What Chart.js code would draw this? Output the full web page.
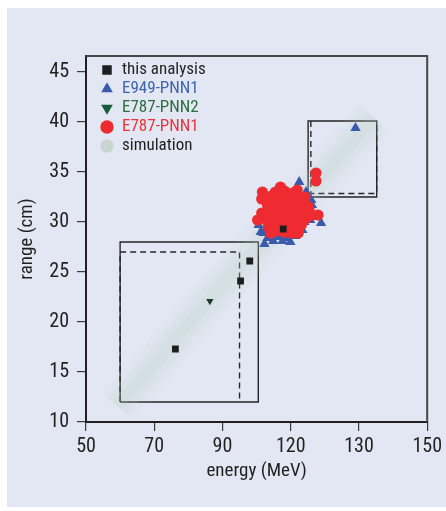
<!DOCTYPE html>
<html><head><meta charset="utf-8">
<script src="https://cdn.jsdelivr.net/npm/chart.js@4.4.1/dist/chart.umd.min.js"></script>
<style>
html,body{margin:0;padding:0;background:#fff;}
#wrap{position:relative;width:446px;height:511px;}
#panel{position:absolute;left:7px;top:8px;width:439px;height:499px;background:#e3e7f3;}
canvas{position:absolute;left:0;top:0;}
</style></head><body>
<div id="wrap"><div id="panel"></div><canvas id="c" width="446" height="511"></canvas></div>
<script>
const xTicks = [50, 70, 90, 110, 130, 150];
const xTickLabels = ['50', '70', '90', '120', '130', '150'];
const yTicks = [10, 15, 20, 25, 30, 35, 40, 45];
const xRange = [50, 150];
const yRange = [10, 46.6];

const thisAnalysis = [{x:76.2,y:17.3},{x:95.3,y:24.1},{x:98.0,y:26.1},{x:107.8,y:29.3}];
const e787pnn2 = [{x:86.3,y:22.1}];
const e949pnn1 = [
  {x:129.0,y:39.4},{x:112.5,y:34.0},{x:100.6,y:29.7},{x:101.2,y:29.0},{x:102.0,y:28.9},
  {x:102.3,y:27.8},{x:103.2,y:28.4},{x:104.9,y:28.1},{x:106.4,y:28.5},{x:107.6,y:28.1},
  {x:109.0,y:28.4},{x:109.9,y:28.0},{x:111.3,y:28.6},{x:115.7,y:30.2},{x:116.6,y:30.5},
  {x:118.9,y:29.9},{x:116.0,y:32.2},{x:114.5,y:33.0},{x:115.1,y:31.5},{x:116.2,y:31.7},
  {x:102.3,y:30.2},{x:104.1,y:30.3},{x:113.4,y:29.2},{x:106.0,y:31.0},{x:110.0,y:31.5},
  {x:108.0,y:30.0},{x:112.0,y:30.5},{x:105.0,y:32.0},{x:110.8,y:32.8},{x:114.0,y:30.0}
];
const e787pnn1 = [
  {x:101.7,y:33.0},{x:101.5,y:32.3},{x:101.5,y:30.9},{x:100.3,y:30.2},{x:107.0,y:33.5},
  {x:111.9,y:33.2},{x:114.2,y:32.5},{x:115.4,y:31.2},{x:118.0,y:30.7},{x:112.2,y:28.9},
  {x:103.5,y:29.5},{x:104.9,y:32.5},{x:103.2,y:31.7},{x:113.1,y:29.7},{x:107.3,y:29.2},
  {x:117.4,y:34.9},{x:117.4,y:34.1},{x:104.2,y:28.9},{x:110.5,y:28.9},{x:109.0,y:29.0},
  {x:111.9,y:29.0},
  {x:105.5,y:33.0},{x:108.2,y:33.1},{x:110.6,y:32.9},
  {x:104.3,y:32.6},{x:106.8,y:32.7},{x:109.3,y:32.5},{x:111.6,y:32.6},{x:113.0,y:32.4},
  {x:103.9,y:32.1},{x:105.8,y:32.0},{x:107.9,y:32.2},{x:110.2,y:32.0},{x:112.4,y:32.1},{x:114.1,y:31.9},
  {x:104.7,y:31.6},{x:106.5,y:31.5},{x:108.7,y:31.7},{x:111.0,y:31.6},{x:113.2,y:31.5},{x:115.0,y:31.6},
  {x:103.6,y:31.1},{x:105.4,y:31.2},{x:107.6,y:31.0},{x:109.8,y:31.1},{x:112.1,y:31.2},{x:114.2,y:31.0},
  {x:104.2,y:30.6},{x:106.3,y:30.5},{x:108.5,y:30.7},{x:110.9,y:30.6},{x:113.0,y:30.5},{x:115.6,y:30.6},
  {x:103.1,y:30.1},{x:105.1,y:30.0},{x:107.2,y:30.2},{x:109.5,y:30.0},{x:111.8,y:30.1},{x:114.0,y:30.2},
  {x:104.6,y:29.6},{x:106.7,y:29.5},{x:108.9,y:29.7},{x:110.8,y:29.5},{x:112.7,y:29.6},
  {x:105.6,y:29.1},{x:108.0,y:29.0},{x:110.2,y:29.2}
];
const simulationPath = [
  {x:59.0,y:11.6},{x:68.6,y:15.2},{x:77.3,y:18.7},{x:86.0,y:22.2},{x:94.8,y:25.4},
  {x:102.0,y:28.2},{x:109.3,y:31.0},{x:116.6,y:33.7},{x:123.8,y:36.4},{x:131.1,y:39.2},{x:134.5,y:40.4}
];
const boxLowSolid = [{x:60,y:12},{x:60,y:28},{x:100.5,y:28},{x:100.5,y:12},{x:60,y:12}];
const boxLowDashed = [{x:60,y:12},{x:60,y:27},{x:95,y:27},{x:95,y:12}];
const boxHighSolid = [{x:115.1,y:32.5},{x:115.1,y:40.1},{x:135.2,y:40.1},{x:135.2,y:32.5},{x:115.1,y:32.5}];
const boxHighDashed = [{x:115.9,y:40.1},{x:115.9,y:32.85},{x:135.2,y:32.85},{x:135.2,y:40.1}];

const FONT = "'Liberation Sans Narrow', 'Roboto Condensed', 'DejaVu Sans Condensed', 'Liberation Sans', sans-serif";
const ink = '#231f20';

function boxDs(data, dashed) {
  return {label:'box', data, showLine:true, pointRadius:0, borderColor:'#262626', borderWidth:1.4,
    borderDash: dashed ? [6,4] : [], fill:false, order:5, inLegend:false, clip:0};
}
function simDs(label, width, alpha, legend) {
  return {label, data: simulationPath, showLine:true, pointRadius:0, tension:0.3,
    borderColor:`rgba(180,202,188,${alpha})`, backgroundColor:'#c9d6cf', borderWidth:width,
    borderCapStyle:'butt', borderJoinStyle:'round', fill:false, order:4, inLegend:legend,
    pointStyle:'circle', legendTextColor: ink, clip:0};
}

const datasets = [
  {label:'this analysis', data:thisAnalysis, pointStyle:'rect', pointRadius:4.8, backgroundColor:'#1e1e1e',
   borderWidth:0, order:0, inLegend:true, legendTextColor:ink},
  {label:'E949-PNN1', data:e949pnn1, pointStyle:'triangle', pointRadius:6, backgroundColor:'#3a5aab',
   borderWidth:0, order:3, inLegend:true, legendTextColor:'#3d65ad'},
  {label:'E787-PNN2', data:e787pnn2, pointStyle:'triangle', rotation:180, pointRadius:4.2, backgroundColor:'#1c3a26',
   borderWidth:0, order:1, inLegend:true, legendTextColor:'#2b6e40', legendFill:'#175a33'},
  {label:'E787-PNN1', data:e787pnn1, pointStyle:'circle', pointRadius:5.6, backgroundColor:'#ee2b31',
   borderWidth:0, order:2, inLegend:true, legendTextColor:'#e8343a'},
  simDs('simulation', 40, 0.08, true),
  simDs('simulation-mid', 26, 0.12, false),
  simDs('simulation-core', 12, 0.14, false),
  boxDs(boxLowSolid, false), boxDs(boxLowDashed, true),
  boxDs(boxHighSolid, false), boxDs(boxHighDashed, true)
];

const framePlugin = {
  id:'frame',
  afterDraw(chart){
    const {ctx, chartArea:a} = chart;
    ctx.save();
    ctx.strokeStyle = '#474747'; ctx.lineWidth = 2;
    ctx.beginPath(); ctx.moveTo(a.left, a.top); ctx.lineTo(a.right, a.top); ctx.lineTo(a.right, a.bottom); ctx.stroke();
    ctx.restore();
  }
};
const legendShift = {
  id:'legendShift',
  afterLayout(chart){ const l = chart.legend; if (l) { l.left = 98.5; l.top = 59.5; } }
};

new Chart(document.getElementById('c'), {
  type:'scatter',
  data:{datasets},
  plugins:[framePlugin, legendShift],
  options:{
    responsive:false, animation:false, devicePixelRatio:1,
    layout:{padding:{top:56, right:16, left:0, bottom:0}},
    scales:{
      x:{type:'linear', min:xRange[0], max:xRange[1],
        afterBuildTicks:s=>{ s.ticks = xTicks.map(v=>({value:v})); },
        afterFit:s=>{ s.height = 89; },
        ticks:{callback:(v,i)=>xTickLabels[i], font:{family:FONT, size:20}, color:ink, padding:4, maxRotation:0, autoSkip:false},
        grid:{drawOnChartArea:false, tickLength:9, color:'#3a3a3a', lineWidth:1.2},
        border:{color:ink, width:2},
        title:{display:true, text:'energy (MeV)', font:{family:FONT, size:19}, color:ink, padding:{top:0, bottom:28.6}}
      },
      y:{type:'linear', min:yRange[0], max:yRange[1],
        afterBuildTicks:s=>{ s.ticks = yTicks.map(v=>({value:v})); },
        afterFit:s=>{ s.width = 86; },
        ticks:{callback:(v,i)=>String(yTicks[i]), font:{family:FONT, size:20}, color:ink, padding:8},
        grid:{drawOnChartArea:false, tickLength:9, color:'#3a3a3a', lineWidth:1.2},
        border:{color:ink, width:2},
        title:{display:true, text:'range (cm)', font:{family:FONT, size:19}, color:ink, padding:{top:15.6, bottom:0}}
      }
    },
    plugins:{
      tooltip:{enabled:false},
      legend:{position:'chartArea', align:'start',
        labels:{usePointStyle:true, boxWidth:13, boxHeight:9.5, padding:2, font:{family:FONT, size:17},
          generateLabels:(chart)=>chart.data.datasets.map((d,i)=>({
            text:d.label, fillStyle:d.legendFill || d.backgroundColor, strokeStyle:d.backgroundColor, lineWidth:0,
            pointStyle:d.pointStyle, rotation:d.rotation || 0, fontColor:d.legendTextColor, hidden:false, datasetIndex:i,
            inLegend:d.inLegend
          })).filter(it=>it.inLegend)
        }
      }
    }
  }
});
</script>
</body></html>
